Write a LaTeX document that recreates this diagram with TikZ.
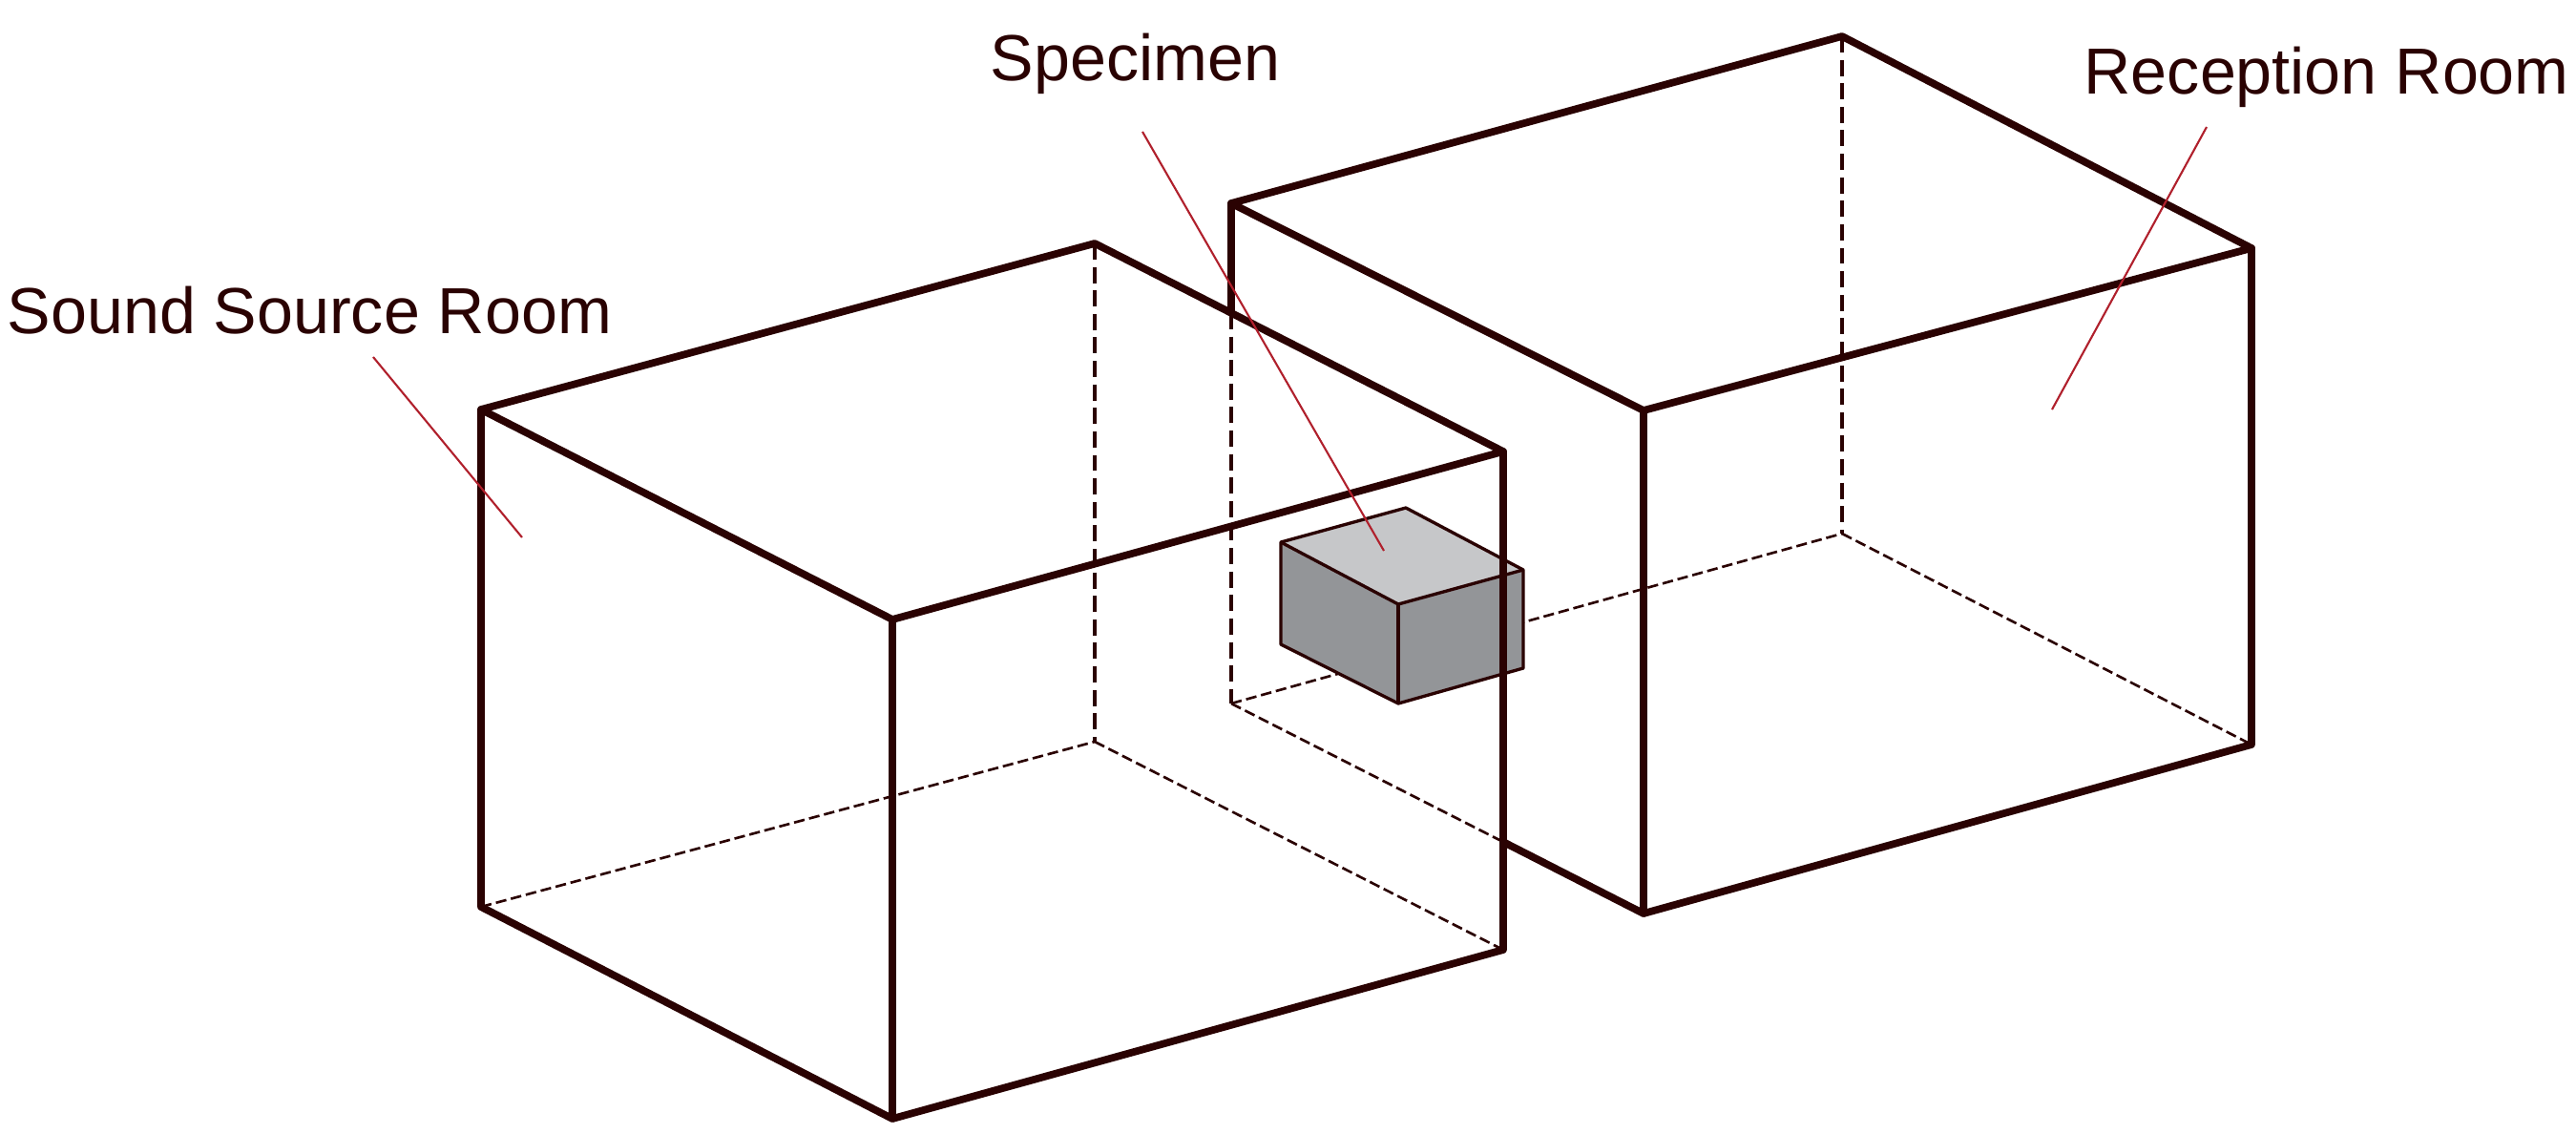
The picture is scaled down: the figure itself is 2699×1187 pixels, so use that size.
\documentclass[tikz,border=0pt]{standalone}
\usepackage{fontspec}
\setmainfont{Liberation Sans}
\definecolor{roomline}{HTML}{2A0202}
\definecolor{leaderred}{HTML}{B0202C}
\definecolor{specimentop}{HTML}{C6C7C9}
\definecolor{specimenside}{HTML}{939598}
\tikzset{
    wall/.style={roomline,line width=2.2pt,line cap=round,line join=round},
    hidden/.style={roomline,line width=0.75pt,dash pattern=on 3.2pt off 1.4pt},
    hiddenup/.style={roomline,line width=1pt,dash pattern=on 4.8pt off 2.2pt},
    edge/.style={roomline,line width=0.95pt,line join=round},
    leader/.style={leaderred,line width=0.6pt},
    roomlabel/.style={text=roomline,font=\fontsize{19.4pt}{23pt}\selectfont,inner sep=0pt,anchor=base west}
}
\begin{document}
\begin{tikzpicture}[x=0.01cm,y=-0.01cm]
            \useasboundingbox (0,0) rectangle (2699,1187);
            % Sound source room
            \coordinate (sa) at (504,429);
            \coordinate (sb) at (1147,255);
            \coordinate (sc) at (1575,473);
            \coordinate (sd) at (935,649);
            \coordinate (sah) at (504,950);
            \coordinate (sbh) at (1147,777);
            \coordinate (sch) at (1575,995);
            \coordinate (sdh) at (935,1172);
            % Reception room
            \coordinate (ra) at (1290,213);
            \coordinate (rb) at (1930,38);
            \coordinate (rc) at (2359,260);
            \coordinate (rd) at (1722,430);
            \coordinate (rah) at (1290,737);
            \coordinate (rbh) at (1930,559);
            \coordinate (rch) at (2359,780);
            \coordinate (rdh) at (1722,957);
            \coordinate (rx) at (1290,328);
            \coordinate (ry) at (1575,882);
            % Specimen
            \coordinate (pa) at (1342,568);
            \coordinate (pb) at (1473,532);
            \coordinate (pc) at (1596,597);
            \coordinate (pd) at (1465,633);
            \coordinate (pah) at (1342,675);
            \coordinate (pch) at (1596,700);
            \coordinate (pdh) at (1465,737);

            \draw[hiddenup] (rx) -- (rah);
            \draw[hiddenup] (rb) -- (rbh);
            \draw[hidden] (rah) -- (rbh);
            \draw[hidden] (rbh) -- (rch);
            \draw[hidden] (rah) -- (ry);
            \draw[wall] (ra) -- (rb) -- (rc) -- (rd) -- cycle;
            \draw[wall] (ra) -- (rx);
            \draw[wall] (rc) -- (rch) -- (rdh) -- (rd);
            \draw[wall] (rdh) -- (ry);

            \fill[specimentop] (pa) -- (pb) -- (pc) -- (pd) -- cycle;
            \fill[specimenside] (pa) -- (pd) -- (pc) -- (pch) -- (pdh) -- (pah) -- cycle;
            \draw[edge] (pa) -- (pb) -- (pc) -- (pch) -- (pdh) -- (pah) -- cycle;
            \draw[edge] (pa) -- (pd) -- (pc);
            \draw[edge] (pd) -- (pdh);

            \draw[hidden] (sah) -- (sbh);
            \draw[hidden] (sbh) -- (sch);
            \draw[hiddenup] (sb) -- (sbh);
            \draw[wall] (sa) -- (sb) -- (sc) -- (sd) -- cycle;
            \draw[wall] (sa) -- (sah) -- (sdh) -- (sd);
            \draw[wall] (sdh) -- (sch) -- (sc);

            \node[roomlabel] (srclabel) at (7,349) {Sound Source Room};
            \node[roomlabel] (speclabel) at (1037,84) {Specimen};
            \node[roomlabel] (reclabel) at (2183,98) {Reception Room};

            \coordinate (srcstart) at (391,374);
            \coordinate (srcend) at (547,563);
            \coordinate (specstart) at (1197,138);
            \coordinate (specend) at (1450,577);
            \coordinate (recstart) at (2312,133);
            \coordinate (recend) at (2150,429);
            \draw[leader] (srcstart) -- (srcend);
            \draw[leader] (specstart) -- (specend);
            \draw[leader] (recstart) -- (recend);
\end{tikzpicture}
\end{document}
